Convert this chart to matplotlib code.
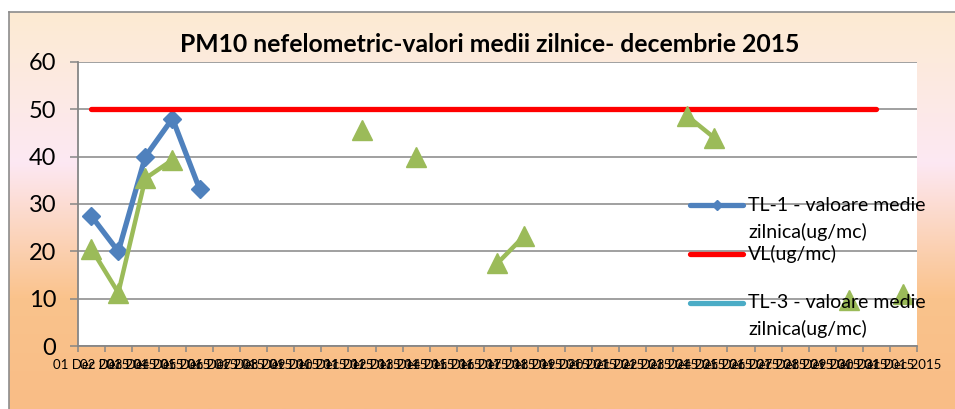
import numpy as np
import matplotlib
matplotlib.use("Agg")
import matplotlib.pyplot as plt
from matplotlib.colors import LinearSegmentedColormap
from matplotlib.lines import Line2D

nan = np.nan

# ---------------- data ----------------
days = ["01 Dec 2015", "02 Dec 2015", "03 Dec 2015", "04 Dec 2015", "05 Dec 2015",
        "06 Dec 2015", "07 Dec 2015", "08 Dec 2015", "09 Dec 2015", "10 Dec 2015",
        "11 Dec 2015", "12 Dec 2015", "13 Dec 2015", "14 Dec 2015", "15 Dec 2015",
        "16 Dec 2015", "17 Dec 2015", "18 Dec 2015", "19 Dec 2015", "20 Dec 2015",
        "21 Dec 2015", "22 Dec 2015", "23 Dec 2015", "24 Dec 2015", "25 Dec 2015",
        "26 Dec 2015", "27 Dec 2015", "28 Dec 2015", "29 Dec 2015", "30 Dec 2015",
        "31 Dec 2015"]

tl1 = [27.5, 20.0, 40.0, 48.0, 33.2, nan, nan, nan, nan, nan,
       nan, nan, nan, nan, nan, nan, nan, nan, nan, nan,
       nan, nan, nan, nan, nan, nan, nan, nan, nan, nan, nan]

vl = [50, 50, 50, 50, 50, 50, 50, 50, 50, 50,
      50, 50, 50, 50, 50, 50, 50, 50, 50, 50,
      50, 50, 50, 50, 50, 50, 50, 50, 50, 50, nan]

tl3 = [nan] * 31

tl2 = [20.6, 11.3, 35.4, 39.3, nan, nan, nan, nan, nan, nan,
       45.5, nan, 39.9, nan, nan, 17.5, 23.3, nan, nan, nan,
       nan, nan, 48.6, 44.0, nan, nan, nan, nan, 9.7, nan, 11.0]

title = "PM10 nefelometric-valori medii zilnice- decembrie 2015"
lab_tl1 = "TL-1 - valoare medie\nzilnica(ug/mc)"
lab_vl = "VL(ug/mc)"
lab_tl3 = "TL-3 - valoare medie\nzilnica(ug/mc)"
yticks = [0, 10, 20, 30, 40, 50, 60]

# ---------------- styling ----------------
FONT = ["Lato", "DejaVu Sans"]
plt.rcParams["font.family"] = FONT
W, H = 955, 409
fig = plt.figure(figsize=(W / 100, H / 100), dpi=100)
fig.patch.set_facecolor("white")

def fx(px):
    return px / W

def fy(py):
    return 1 - py / H

# gradient background of the chart area
bg = fig.add_axes([fx(9), 0, 1 - fx(9), fy(12)], zorder=-10)
cmap = LinearSegmentedColormap.from_list(
    "peach",
    [(0.0, "#FCEBD2"), (0.38, "#FDE8F3"), (0.72, "#FAC38C"), (1.0, "#F9BD86")])
grad = np.linspace(0, 1, 256).reshape(-1, 1)
bg.imshow(grad, aspect="auto", cmap=cmap, extent=[0, 1, 0, 1], origin="upper")
bg.set_axis_off()
fig.add_artist(Line2D([fx(9), 1], [fy(12), fy(12)], transform=fig.transFigure,
                      color="#8C8C8C", lw=1.2))
fig.add_artist(Line2D([fx(9), fx(9)], [0, fy(12)], transform=fig.transFigure,
                      color="#8C8C8C", lw=1.2))

ax = fig.add_axes([fx(77.7), fy(346.4), fx(917) - fx(77.7), fy(61.6) - fy(346.4)])
ax.set_facecolor("white")

gray = "#868686"
x = np.arange(len(days))
ax.plot(x, tl1, color="#4F81BD", lw=3.8, marker="D", ms=9.5, zorder=3,
        solid_joinstyle="round", solid_capstyle="round")
ax.plot(x, vl, color="#FF0000", lw=3.8, zorder=3, solid_capstyle="round")
ax.plot(x, tl3, color="#4BACC6", lw=3.4, zorder=3)
ax.plot(x, tl2, color="#9BBB59", lw=3.2, marker="^", ms=14.5, zorder=4,
        solid_joinstyle="round", solid_capstyle="round")

ax.set_xlim(-0.5, len(days) - 0.5)
ax.set_ylim(0, 60)
ax.set_yticks(yticks)
ax.set_yticklabels([str(v) for v in yticks])
ax.set_xticks(x)
ax.set_xticklabels(days)
ax.set_xticks(np.arange(len(days) + 1) - 0.5, minor=True)

ax.grid(axis="y", color=gray, lw=1.1, zorder=1)
ax.set_axisbelow(True)
for s in ["top", "right"]:
    ax.spines[s].set_visible(False)
for s in ["left", "bottom"]:
    ax.spines[s].set_color(gray)
    ax.spines[s].set_linewidth(1.3)

ax.tick_params(axis="y", direction="out", length=5.5, width=1.1, color=gray,
               labelsize=17, pad=10, labelcolor="black")
ax.tick_params(axis="x", which="major", length=0, labelsize=9.5, pad=9,
               labelcolor="black")
ax.tick_params(axis="x", which="minor", direction="out", length=4, width=1.1,
               color=gray)

fig.text(fx(490), fy(45), title, ha="center", va="center", fontsize=17.8,
         fontweight="bold", color="black")

# legend (drawn as in the original, no frame)
entries = [(lab_tl1, "#4F81BD", 205.5, "D"), (lab_vl, "#FF0000", 254.0, None),
           (lab_tl3, "#4BACC6", 302.5, None)]
for lab, col, ypx, mk in entries:
    fig.add_artist(Line2D([fx(690), fx(743)], [fy(ypx), fy(ypx)],
                          transform=fig.transFigure, color=col, lw=3.8,
                          solid_capstyle="round", zorder=6))
    if mk:
        fig.add_artist(Line2D([fx(716.5)], [fy(ypx)], transform=fig.transFigure,
                              color=col, marker=mk, ms=5, zorder=6))
    lines = lab.split("\n")
    for i, t in enumerate(lines):
        fig.text(fx(748), fy(ypx + 26.5 * i), t, ha="left", va="center",
                 fontsize=14, color="black", zorder=7)

fig.savefig("out.png", dpi=100)
